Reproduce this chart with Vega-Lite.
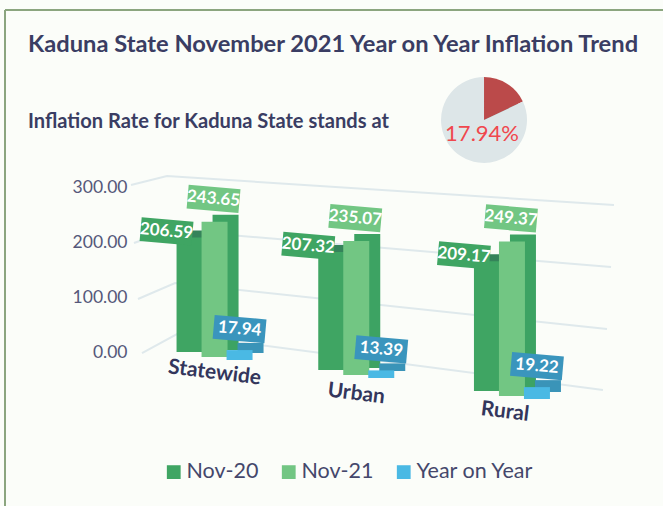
{
"$schema":"https://vega.github.io/schema/vega-lite/v6.json",
"autosize":{"type":"none"},
"padding":{"left":5,"top":10,"right":0,"bottom":0},
"width":658,"height":496,
"background":"#fbfdf9",
"config":{"view":{"stroke":null},"font":"Lato"},
"title":{"text":"Kaduna State November 2021 Year on Year Inflation Trend","subtitle":"Inflation Rate for Kaduna State stands at","anchor":"start","frame":"group","dx":23,"offset":-123,"font":"Lato","fontSize":23.7,"fontWeight":"bold","color":"#3a3d63","subtitleFont":"Lato","subtitleFontSize":20.1,"subtitleFontWeight":"bold","subtitleColor":"#3a3d63","subtitlePadding":55},
"datasets":{
"rows":[
{"region":"Statewide","series":"Nov-20","value":206.59},
{"region":"Statewide","series":"Nov-21","value":243.65},
{"region":"Statewide","series":"Year on Year","value":17.94},
{"region":"Urban","series":"Nov-20","value":207.32},
{"region":"Urban","series":"Nov-21","value":235.07},
{"region":"Urban","series":"Year on Year","value":13.39},
{"region":"Rural","series":"Nov-20","value":209.17},
{"region":"Rural","series":"Nov-21","value":249.37},
{"region":"Rural","series":"Year on Year","value":19.22}],
"grid":[
{"level":300,"along":0.1915,"at":303.6},{"level":300,"along":0.2462,"at":320},{"level":300,"along":0.9255,"at":267.3},
{"level":200,"along":0.196,"at":198.2},{"level":200,"along":0.2523,"at":221.8},{"level":200,"along":0.921,"at":154.5},
{"level":100,"along":0.2021,"at":96.4},{"level":100,"along":0.2584,"at":125.5},{"level":100,"along":0.9149,"at":41.8},
{"level":0,"along":0.2082,"at":-1.8},{"level":0,"along":0.2614,"at":32.7},{"level":0,"along":0.9088,"at":-69.1}],
"pie":[{"part":"inflation","share":17.94},{"part":"rest","share":82.06}]
},
"resolve":{"scale":{"x":"independent"}},
"layer":[
{"data":{"name":"grid"},
 "mark":{"type":"line","color":"#dfe9ec","strokeWidth":2},
 "encoding":{
  "x":{"field":"along","type":"quantitative","scale":{"domain":[0,1]},"axis":null},
  "y":{"field":"at","type":"quantitative","scale":{"domain":[-280,622],"nice":false,"zero":false},
   "axis":{"values":[0,100,200,300],"format":".2f","title":null,"offset":-122,"domain":false,"ticks":false,"grid":false,"labelFontSize":17.5,"labelColor":"#55587a","labelFont":"Lato","labelPadding":0,
    "encode":{"labels":{"update":{"dx":{"signal":"datum.value===300?-13:datum.value===200?-8:datum.value===100?-5:-1"}}}}}},
  "detail":{"field":"level"},
  "order":{"field":"along"}}},
{"data":{"values":[{"edge":"left"}]},
 "mark":{"type":"rule","color":"#8ba57f","strokeWidth":2},
 "encoding":{"x":{"datum":0,"type":"quantitative","scale":{"domain":[0,1]},"axis":null}}},
{"data":{"values":[{"edge":"top"}]},
 "mark":{"type":"rule","color":"#8ba57f","strokeWidth":2},
 "encoding":{"y":{"datum":622,"type":"quantitative"}}},
{"data":{"values":[{"label":"shadow"}]},
 "mark":{"type":"point","shape":"circle","filled":true,"opacity":1,"color":"#7f8c88","size":5900,"yOffset":2},
 "encoding":{"x":{"datum":0.728,"type":"quantitative","scale":{"domain":[0,1]},"axis":null},"y":{"datum":422,"type":"quantitative"}}},
{"data":{"name":"pie"},
 "mark":{"type":"arc","radius":43,"color":{"expr":"datum.part==='inflation'?'#bb4a4a':'#dde6e8'"}},
 "encoding":{"theta":{"field":"share","type":"quantitative","stack":true},"order":{"field":"part"},
  "x":{"datum":0.728,"type":"quantitative","scale":{"domain":[0,1]},"axis":null},"y":{"datum":422,"type":"quantitative"}}},
{"data":{"values":[{"label":"17.94%"}]},
 "mark":{"type":"text","font":"Lato","fontSize":22,"fontWeight":"normal","color":"#f0474d"},
 "encoding":{"text":{"field":"label"},"x":{"datum":0.725,"type":"quantitative","scale":{"domain":[0,1]},"axis":null},"y":{"datum":396,"type":"quantitative"}}},
{"data":{"name":"rows"},
 "encoding":{
  "x":{"field":"region","type":"nominal","sort":["Statewide","Urban","Rural"],"scale":{"type":"band","paddingInner":0.475,"paddingOuter":0.95,"align":0.6},"axis":null},
  "y":{"field":"value","type":"quantitative","stack":null},
  "y2":{"datum":0}},
 "layer":[
 {"mark":{"type":"bar","width":26,"color":{"expr":"datum.series==='Nov-20'?'#35835a':datum.series==='Nov-21'?'#3da363':'#3a94b8'"},
   "xOffset":{"expr":"(datum.region==='Urban'?-7:0)+(datum.series==='Nov-20'?-24:datum.series==='Nov-21'?1:26)+11"},
   "yOffset":{"expr":"(datum.region==='Statewide'?0:datum.region==='Urban'?18:39)+(datum.series==='Nov-20'?0:datum.series==='Nov-21'?5:8)-datum.value*(datum.region==='Rural'?0.07:datum.region==='Urban'?0.02:0.005)-7"},
   "y2Offset":{"expr":"(datum.region==='Statewide'?0:datum.region==='Urban'?18:39)+(datum.series==='Nov-20'?0:datum.series==='Nov-21'?5:8)-7"}}},
 {"mark":{"type":"bar","width":26,
   "xOffset":{"expr":"(datum.region==='Urban'?-7:0)+(datum.series==='Nov-20'?-24:datum.series==='Nov-21'?1:26)"},
   "yOffset":{"expr":"(datum.region==='Statewide'?0:datum.region==='Urban'?18:39)+(datum.series==='Nov-20'?0:datum.series==='Nov-21'?5:8)-datum.value*(datum.region==='Rural'?0.07:datum.region==='Urban'?0.02:0.005)"},
   "y2Offset":{"expr":"(datum.region==='Statewide'?0:datum.region==='Urban'?18:39)+(datum.series==='Nov-20'?0:datum.series==='Nov-21'?5:8)"}},
  "encoding":{"color":{"field":"series","type":"nominal","sort":["Nov-20","Nov-21","Year on Year"],
    "scale":{"domain":["Nov-20","Nov-21","Year on Year"],"range":["#3fa563","#72c683","#4ab9e4"]},
    "legend":{"title":null,"orient":"none","legendX":158,"legendY":451,"direction":"horizontal","symbolType":"square","symbolSize":190,"symbolStrokeWidth":0,"symbolOpacity":1,"labelFontSize":21.5,"labelFont":"Lato","labelColor":"#44476b","columnPadding":19,"labelOffset":2}}}},
 {"mark":{"type":"point","filled":true,"opacity":1,"size":2704,"shape":"M-.956,-.545L1.036,-.371L.956,.545L-1.036,.371Z",
   "color":{"expr":"datum.series==='Nov-20'?'#3fa563':datum.series==='Nov-21'?'#72c683':'#3a95bd'"},
   "xOffset":{"expr":"(datum.region==='Urban'?-7:0)+(datum.series==='Nov-20'?-47:datum.series==='Nov-21'?0:26)"},
   "yOffset":{"expr":"(datum.region==='Statewide'?0:datum.region==='Urban'?18:39)+(datum.series==='Nov-20'?-6:datum.series==='Nov-21'?-18:-13)-datum.value*(datum.region==='Rural'?0.07:datum.region==='Urban'?0.02:0.005)"}}},
 {"mark":{"type":"text","font":"Lato","fontSize":17,"fontWeight":"bold","color":"#ffffff","angle":5,
   "xOffset":{"expr":"(datum.region==='Urban'?-7:0)+(datum.series==='Nov-20'?-47:datum.series==='Nov-21'?0:26)"},
   "yOffset":{"expr":"(datum.region==='Statewide'?0:datum.region==='Urban'?18:39)+(datum.series==='Nov-20'?-6:datum.series==='Nov-21'?-18:-13)-datum.value*(datum.region==='Rural'?0.07:datum.region==='Urban'?0.02:0.005)"}},
  "encoding":{"y2":{"value":null},"text":{"field":"value","type":"quantitative","format":".2f"}}}
 ]},
{"data":{"values":[{"region":"Statewide"},{"region":"Urban"},{"region":"Rural"}]},
 "mark":{"type":"text","font":"Lato","fontSize":21,"fontWeight":"bold","color":"#33365c","angle":7,
  "xOffset":{"expr":"datum.region==='Statewide'?1:-6"},
  "yOffset":{"expr":"datum.region==='Statewide'?0:datum.region==='Urban'?21:39"}},
 "encoding":{"text":{"field":"region"},
  "x":{"field":"region","type":"nominal","sort":["Statewide","Urban","Rural"],"scale":{"type":"band","paddingInner":0.475,"paddingOuter":0.95,"align":0.6},"axis":null},
  "y":{"datum":-38,"type":"quantitative"}}}
]}
